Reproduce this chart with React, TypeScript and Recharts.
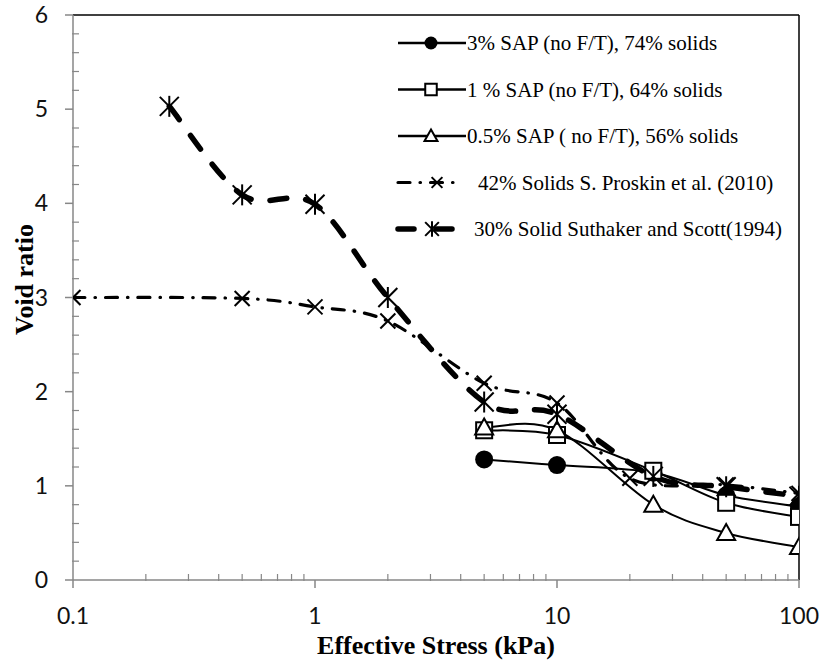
import React from 'react';
import { LineChart, Line, XAxis, YAxis, ReferenceLine, Legend } from 'recharts';

// stress (kPa) and void ratio per series
const sap3Stress = [5, 10, 25, 50, 100];
const sap3Void = [1.28, 1.22, 1.14, 0.9, 0.78];
const sap1Stress = [5, 10, 25, 50, 100];
const sap1Void = [1.59, 1.54, 1.16, 0.82, 0.67];
const sap05Stress = [5, 10, 25, 50, 100];
const sap05Void = [1.62, 1.59, 0.8, 0.5, 0.35];
const proskinStress = [0.1, 0.5, 1, 2, 5, 10, 20, 50, 100];
const proskinVoid = [3.0, 2.99, 2.9, 2.75, 2.09, 1.88, 1.08, 1.01, 0.92];
const suthakerStress = [0.25, 0.5, 1, 2, 5, 10, 25, 50, 100];
const suthakerVoid = [5.03, 4.09, 3.99, 3.0, 1.89, 1.76, 1.1, 0.99, 0.89];

const xMajorTicks = [0.1, 1, 10, 100];
const xMinorTicks = [0.2, 0.3, 0.4, 0.5, 0.6, 0.7, 0.8, 0.9, 2, 3, 4, 5, 6, 7, 8, 9, 20, 30, 40, 50, 60, 70, 80, 90];
const yMajorTicks = [0, 1, 2, 3, 4, 5, 6];
const yMinorTicks = [0.2, 0.4, 0.6, 0.8, 1.2, 1.4, 1.6, 1.8, 2.2, 2.4, 2.6, 2.8, 3.2, 3.4, 3.6, 3.8, 4.2, 4.4, 4.6, 4.8, 5.2, 5.4, 5.6, 5.8];

const legendNames = [
  '3% SAP (no F/T), 74% solids',
  '1 % SAP (no F/T), 64% solids',
  '0.5% SAP ( no F/T), 56% solids',
  '42% Solids S. Proskin et al. (2010)',
  '30% Solid Suthaker and Scott(1994)',
];

const toPoints = (xs: number[], ys: number[]) => xs.map((x, i) => ({ x, y: ys[i] }));

const AXIS_GRAY = '#878787';
const TICK_FONT = 'Lato, "Open Sans", sans-serif';
const SERIF = '"Liberation Serif", "Times New Roman", serif';

// Excel-style smoothing (Catmull-Rom through the points)
function excelSmooth(context: any) {
  let pts: number[][] = [];
  return {
    areaStart() {},
    areaEnd() {},
    lineStart() {
      pts = [];
    },
    point(x: number, y: number) {
      pts.push([+x, +y]);
    },
    lineEnd() {
      const n = pts.length;
      if (!n) return;
      context.moveTo(pts[0][0], pts[0][1]);
      for (let i = 0; i < n - 1; i++) {
        const p0 = pts[Math.max(i - 1, 0)];
        const p1 = pts[i];
        const p2 = pts[i + 1];
        const p3 = pts[Math.min(i + 2, n - 1)];
        context.bezierCurveTo(
          p1[0] + (p2[0] - p0[0]) / 6,
          p1[1] + (p2[1] - p0[1]) / 6,
          p2[0] - (p3[0] - p1[0]) / 6,
          p2[1] - (p3[1] - p1[1]) / 6,
          p2[0],
          p2[1]
        );
      }
    },
  };
}

type Shape = 'circle' | 'square' | 'triangle' | 'cross' | 'star';

function Marker({ shape, cx, cy, k = 1 }: { shape: Shape; cx: number; cy: number; k?: number }) {
  if (cx == null || cy == null) return null;
  if (shape === 'circle') return <circle cx={cx} cy={cy} r={9 * k} fill="#000" />;
  if (shape === 'square')
    return <rect x={cx - 8 * k} y={cy - 8 * k} width={16 * k} height={16 * k} fill="#fff" stroke="#000" strokeWidth={2} />;
  if (shape === 'triangle')
    return (
      <polygon
        points={`${cx},${cy - 9 * k} ${cx + 9 * k},${cy + 7 * k} ${cx - 9 * k},${cy + 7 * k}`}
        fill="#fff"
        stroke="#000"
        strokeWidth={2}
      />
    );
  const s = (shape === 'star' ? 9.5 : 7.5) * k;
  return (
    <g stroke="#000" strokeWidth={2}>
      <line x1={cx - s} y1={cy - s} x2={cx + s} y2={cy + s} />
      <line x1={cx - s} y1={cy + s} x2={cx + s} y2={cy - s} />
      {shape === 'star' && <line x1={cx} y1={cy - s - 1} x2={cx} y2={cy + s + 1} />}
    </g>
  );
}

const dotOf = (shape: Shape) => (p: any) => <Marker key={`${shape}-${p.index}`} shape={shape} cx={p.cx} cy={p.cy} />;

function XTick({ x, y, payload }: any) {
  const major = xMajorTicks.includes(payload.value);
  return (
    <g>
      {major ? (
        <line x1={x} y1={y} x2={x} y2={y + 8} stroke={AXIS_GRAY} strokeWidth={1.5} />
      ) : (
        <line x1={x} y1={y - 6} x2={x} y2={y + 1} stroke={AXIS_GRAY} strokeWidth={1.2} />
      )}
      {major && (
        <text x={x} y={y + 44} textAnchor="middle" fontFamily={TICK_FONT} fontSize={23} fill="#111">
          {payload.value}
        </text>
      )}
    </g>
  );
}

function YTick({ x, y, payload }: any) {
  const major = yMajorTicks.includes(payload.value);
  return (
    <g>
      {major ? (
        <line x1={x - 8} y1={y} x2={x} y2={y} stroke={AXIS_GRAY} strokeWidth={1.5} />
      ) : (
        <line x1={x - 1} y1={y} x2={x + 6} y2={y} stroke={AXIS_GRAY} strokeWidth={1.2} />
      )}
      {major && (
        <text x={x - 25} y={y + 8} textAnchor="end" fontFamily={TICK_FONT} fontSize={23} fill="#111">
          {payload.value}
        </text>
      )}
    </g>
  );
}

function XTitle({ viewBox }: any) {
  const cx = viewBox.x + viewBox.width / 2;
  return (
    <text x={cx} y={viewBox.y + 74} textAnchor="middle" fontFamily={SERIF} fontWeight="bold" fontSize={26} fill="#000">
      Effective Stress (kPa)
    </text>
  );
}

function YTitle({ viewBox }: any) {
  const cx = 24;
  const cy = viewBox.y + viewBox.height / 2 - 18;
  return (
    <text
      x={cx}
      y={cy}
      transform={`rotate(-90 ${cx} ${cy})`}
      textAnchor="middle"
      dominantBaseline="central"
      fontFamily={SERIF}
      fontWeight="bold"
      fontSize={26}
      fill="#000"
    >
      Void ratio
    </text>
  );
}

const legendSamples: { shape: Shape; dash?: string; width: number; textX: number; x2: number; mx: number }[] = [
  { shape: 'circle', width: 2.5, textX: 79, x2: 78, mx: 43 },
  { shape: 'square', width: 2.5, textX: 79, x2: 78, mx: 43 },
  { shape: 'triangle', width: 2.5, textX: 79, x2: 78, mx: 43 },
  { shape: 'cross', dash: '12 10 0.5 10', width: 3.2, textX: 90, x2: 66, mx: 49 },
  { shape: 'star', dash: '16 22', width: 5.5, textX: 86, x2: 71, mx: 44 },
];

function LegendBox() {
  return (
    <svg width={420} height={230}>
      {legendSamples.map((s, i) => {
        const cy = 23 + i * 46.5;
        return (
          <g key={i}>
            <line
              x1={10}
              y1={cy}
              x2={s.x2}
              y2={cy}
              stroke="#000"
              strokeWidth={s.width}
              strokeDasharray={s.dash}
              strokeLinecap={s.dash ? 'round' : 'butt'}
            />
            <Marker shape={s.shape} cx={s.mx} cy={cy} k={0.72} />
            <text x={s.textX} y={cy + 7} fontFamily={SERIF} fontSize={21} fill="#000">
              {legendNames[i]}
            </text>
          </g>
        );
      })}
    </svg>
  );
}

export default function App() {
  return (
    <div style={{ position: 'absolute', left: 0, top: 0, width: 820, height: 663, background: '#fff' }}>
      <LineChart width={820} height={663} margin={{ top: 15, right: 21, left: 0, bottom: 0 }}>
        <XAxis
          dataKey="x"
          type="number"
          scale="log"
          domain={[0.1, 100]}
          allowDataOverflow
          ticks={[...xMajorTicks, ...xMinorTicks]}
          interval={0}
          tickSize={0}
          tickMargin={0}
          tick={<XTick />}
          height={83}
          axisLine={{ stroke: AXIS_GRAY, strokeWidth: 1.5 }}
          label={{ content: (p: any) => <XTitle {...p} /> }}
        />
        <YAxis
          type="number"
          domain={[0, 6]}
          allowDataOverflow
          ticks={[...yMajorTicks, ...yMinorTicks]}
          interval={0}
          tickSize={0}
          tickMargin={0}
          tick={<YTick />}
          width={73}
          axisLine={{ stroke: AXIS_GRAY, strokeWidth: 1.5 }}
          label={{ content: (p: any) => <YTitle {...p} /> }}
        />
        <ReferenceLine y={6} stroke="#000" strokeWidth={1.5} />
        <ReferenceLine x={100} stroke="#000" strokeWidth={1.5} />
        <Line
          data={toPoints(sap3Stress, sap3Void)}
          dataKey="y"
          type={excelSmooth as any}
          stroke="#000"
          strokeWidth={2}
          dot={dotOf('circle')}
          isAnimationActive={false}
        />
        <Line
          data={toPoints(sap1Stress, sap1Void)}
          dataKey="y"
          type={excelSmooth as any}
          stroke="#000"
          strokeWidth={2}
          dot={dotOf('square')}
          isAnimationActive={false}
        />
        <Line
          data={toPoints(sap05Stress, sap05Void)}
          dataKey="y"
          type={excelSmooth as any}
          stroke="#000"
          strokeWidth={2}
          dot={dotOf('triangle')}
          isAnimationActive={false}
        />
        <Line
          data={toPoints(proskinStress, proskinVoid)}
          dataKey="y"
          type={excelSmooth as any}
          stroke="#000"
          strokeWidth={3.2}
          strokeDasharray="12 10 0.5 10"
          strokeLinecap="round"
          dot={dotOf('cross')}
          isAnimationActive={false}
        />
        <Line
          data={toPoints(suthakerStress, suthakerVoid)}
          dataKey="y"
          type={excelSmooth as any}
          stroke="#000"
          strokeWidth={5.5}
          strokeDasharray="17 19"
          strokeLinecap="round"
          dot={dotOf('star')}
          isAnimationActive={false}
        />
        <Legend
          layout="vertical"
          align="center"
          verticalAlign="middle"
          wrapperStyle={{ left: 388, top: 20, width: 420, height: 230 }}
          content={() => <LegendBox />}
        />
      </LineChart>
    </div>
  );
}
